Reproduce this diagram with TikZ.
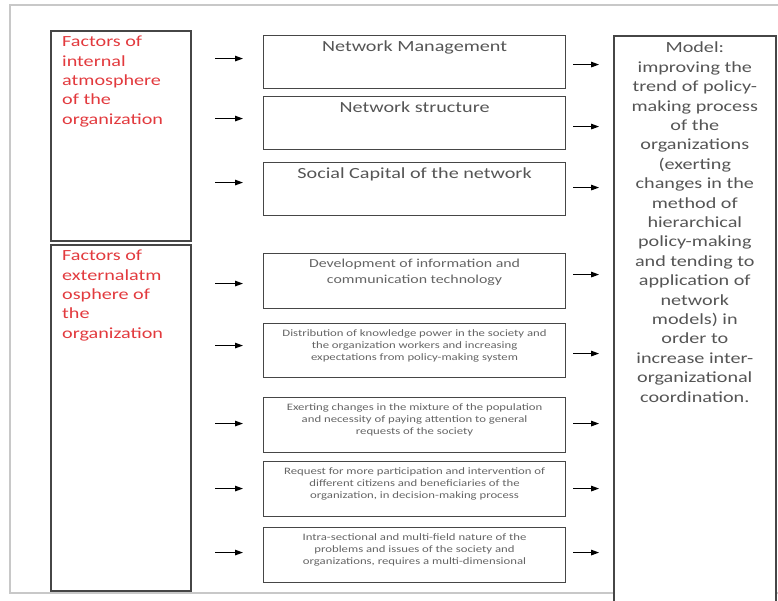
\documentclass[tikz,border=0pt]{standalone}
\usepackage{fontspec}
\setmainfont{Carlito}[FakeStretch=1.3]
\usetikzlibrary{positioning, arrows.meta}

\definecolor{factred}{RGB}{226,58,62}
\definecolor{boxgray}{RGB}{70,70,70}
\definecolor{txtgray}{RGB}{85,85,85}
\definecolor{smallgray}{RGB}{100,100,100}
\definecolor{framegray}{RGB}{200,200,200}

\begin{document}
\begin{tikzpicture}[x=1pt, y=-1pt,
    factor/.style={draw=boxgray, line width=1.6pt, anchor=north west, minimum width=140pt},
    item/.style={draw=boxgray, line width=1.1pt, anchor=north west, minimum width=302pt},
    big/.style={font=\fontsize{15.5}{19.4}\selectfont, text=txtgray, align=center, inner sep=0pt},
    mid/.style={font=\fontsize{12.2}{15.6}\selectfont, text=smallgray, align=center, inner sep=0pt},
    small/.style={font=\fontsize{9.8}{12.2}\selectfont, text=smallgray, align=center, inner sep=0pt},
    redtext/.style={font=\fontsize{15.5}{19.3}\selectfont, text=factred, align=left, inner sep=0pt, anchor=north west},
    arr/.style={-{Triangle[length=8pt,width=5.5pt]}, line width=1.2pt}
  ]
  \useasboundingbox (0,0) rectangle (778,600);

  % frame
  \draw[framegray, line width=1.2pt] (10,5) rectangle (800,593);

  % factor columns
  \node[factor, minimum height=210pt] (f1) at (50,30) {};
  \node[factor, minimum height=346pt] (f2) at (50,244) {};
  \node[redtext] (f1t) at ([xshift=12pt,yshift=-6pt]f1.north west)
    {Factors of\\internal\\atmosphere\\of the\\organization};
  \node[redtext] (f2t) at ([xshift=12pt,yshift=-6pt]f2.north west)
    {Factors of\\externalatm\\osphere of\\the\\organization};

  % middle boxes
  \node[item, minimum height=53pt] (m1) at (263,35) {};
  \node[item, minimum height=53pt] (m2) at (263,96) {};
  \node[item, minimum height=53pt] (m3) at (263,162) {};
  \node[item, minimum height=55pt] (m4) at (263,253) {};
  \node[item, minimum height=54pt] (m5) at (263,323) {};
  \node[item, minimum height=55pt] (m6) at (263,397) {};
  \node[item, minimum height=55pt] (m7) at (263,461) {};
  \node[item, minimum height=55pt] (m8) at (263,527) {};

  \node[big, below=6pt of m1.north] (t1) {Network Management};
  \node[big, below=6pt of m2.north] (t2) {Network structure};
  \node[big, below=6pt of m3.north] (t3) {Social Capital of the network};
  \node[mid, below=6pt of m4.north] (t4)
    {Development of information and\\communication technology};
  \node[small, below=6pt of m5.north] (t5)
    {Distribution of knowledge power in the society and\\the organization workers and increasing\\expectations from policy-making system};
  \node[small, below=6pt of m6.north] (t6)
    {Exerting changes in the mixture of the population\\and necessity of paying attention to general\\requests of the society};
  \node[small, below=6pt of m7.north] (t7)
    {Request for more participation and intervention of\\different citizens and beneficiaries of the\\organization, in decision-making process};
  \node[small, below=6pt of m8.north] (t8)
    {Intra-sectional and multi-field nature of the\\problems and issues of the society and\\organizations, requires a multi-dimensional};

  % model
  \node[draw=boxgray, line width=1.6pt, fill=white, anchor=north west,
        minimum width=162pt, minimum height=580pt] (model) at (613,35) {};
  \node[big, below=7pt of model.north] (modelt)
    {Model:\\improving the\\trend of policy-\\making process\\of the\\organizations\\(exerting\\changes in the\\method of\\hierarchical\\policy-making\\and tending to\\application of\\network\\models) in\\order to\\increase inter-\\organizational\\coordination.};

  % arrows in and out
  \foreach \n/\dl/\dr in {1/3.5/-2.5, 2/4.5/-3.5, 3/6.5/1.5, 4/-2.5/6.5,
                          5/5/-3, 6/1.5/1.5, 7/0.5/0.5, 8/2.5/2.5} {
    \draw[arr] ([xshift=-48pt,yshift=\dl pt]m\n.west) -- ([xshift=-20pt,yshift=\dl pt]m\n.west);
    \draw[arr] ([xshift=7pt,yshift=\dr pt]m\n.east) -- ([xshift=33pt,yshift=\dr pt]m\n.east);
  }

\end{tikzpicture}
\end{document}
